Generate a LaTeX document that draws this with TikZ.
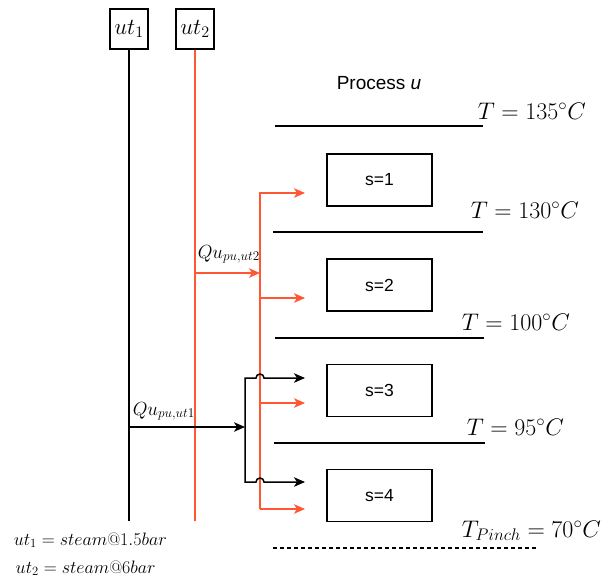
\RequirePackage{fix-cm}
\documentclass[tikz,border=0pt]{standalone}
\usepackage{fontspec}
\newfontfamily\sansf{Liberation Sans}
\usetikzlibrary{arrows.meta}
\definecolor{org}{RGB}{255,87,51}
\begin{document}
\begin{tikzpicture}[x=1pt,y=-1pt,line width=1.5pt,
  ubox/.style={draw,minimum width=38pt,minimum height=40pt,inner sep=0pt,font=\fontsize{23}{27}\selectfont},
  sbox/.style={draw,minimum width=105pt,minimum height=52pt,inner sep=0pt,font=\sansf\fontsize{17.5}{20}\selectfont},
  tlab/.style={anchor=base west,inner sep=0pt,font=\fontsize{24}{28}\selectfont},
  qlab/.style={anchor=base west,inner sep=0pt,font=\fontsize{19}{22}\selectfont},
  blab/.style={anchor=base west,inner sep=0pt,font=\fontsize{18}{21}\selectfont},
  tip/.tip={Stealth[length=11pt,width=9.5pt,inset=3pt]},
  arr/.style={-tip},
]
\useasboundingbox (0,0) rectangle (603,579);

% utilities
\node[ubox] (ut1) at (129,29) {$ut_1$};
\node[ubox] (ut2) at (195,29) {$ut_2$};
\coordinate (ut1end) at (129,521);
\coordinate (ut2end) at (195,521);
\draw (ut1) -- (ut1end);
\draw[org] (ut2) -- (ut2end);

% process header
\node[anchor=base west,inner sep=0pt,font=\sansf\fontsize{19}{22}\selectfont] (proc) at (336,89) {Process \textit{u}};

% temperature levels
\coordinate (L1a) at (275,126); \coordinate (L1b) at (483,126);
\coordinate (L2a) at (273,232); \coordinate (L2b) at (483,232);
\coordinate (L3a) at (275,338); \coordinate (L3b) at (484,338);
\coordinate (L4a) at (274,443); \coordinate (L4b) at (485,443);
\coordinate (L5a) at (273,548); \coordinate (L5b) at (537,548);
\draw (L1a) -- (L1b);
\draw (L2a) -- (L2b);
\draw (L3a) -- (L3b);
\draw (L4a) -- (L4b);
\draw[line width=1.1pt,dash pattern=on 4pt off 3pt] (L5a) -- (L5b);

\node[tlab] (t1) at (477,119) {$T = 135^{\circ}C$};
\node[tlab] (t2) at (470,218) {$T = 130^{\circ}C$};
\node[tlab] (t3) at (461,330) {$T = 100^{\circ}C$};
\node[tlab] (t4) at (466,435) {$T = 95^{\circ}C$};
\node[tlab] (t5) at (461,537) {$T_{Pinch} = 70^{\circ}C$};

% stages
\node[sbox] (s1) at (379.5,180) {s=1};
\node[sbox] (s2) at (379.5,285) {s=2};
\node[sbox] (s3) at (379.5,390.5) {s=3};
\node[sbox] (s4) at (379.5,495.5) {s=4};

% ut2 heat (orange)
\coordinate (q2s) at (195,273);
\coordinate (q2e) at (260,273);
\draw[org,arr] (q2s) -- (q2e);
\node[qlab] (q2) at (197,258) {$Qu_{pu,ut2}$};
\coordinate (b1) at (260,193);
\coordinate (b2) at (260,298);
\coordinate (b3) at (260,403);
\coordinate (b4) at (260,509);
\coordinate (o1) at (305,193);
\coordinate (o2) at (305,298);
\coordinate (o3) at (305,403);
\coordinate (o4) at (305,509);
\draw[org,arr] (b4) -- (b1) -- (o1);
\draw[org,arr] (b2) -- (o2);
\draw[org,arr] (b3) -- (o3);
\draw[org,arr] (b4) -- (o4);

% ut1 heat (black)
\coordinate (q1s) at (129,427);
\coordinate (q1e) at (245,427);
\draw[arr] (q1s) -- (q1e);
\node[qlab] (q1) at (132,415) {$Qu_{pu,ut1}$};
\coordinate (k1) at (245,378);
\coordinate (k4) at (245,482);
\coordinate (h1) at (264,378);
\coordinate (h4) at (256,482);
\coordinate (a3) at (305,378);
\coordinate (a4) at (305,482);
\draw[tip-tip] (a3) -- (h1) arc[start angle=0,end angle=-180,radius=4] -- (k1) -- (k4) -- (h4) arc[start angle=180,end angle=360,radius=4] -- (a4);

% legend
\node[blab] (lg1) at (13,545) {$ut_1 = steam@1.5bar$};
\node[blab] (lg2) at (15,573) {$ut_2 = steam@6bar$};
\end{tikzpicture}
\end{document}
